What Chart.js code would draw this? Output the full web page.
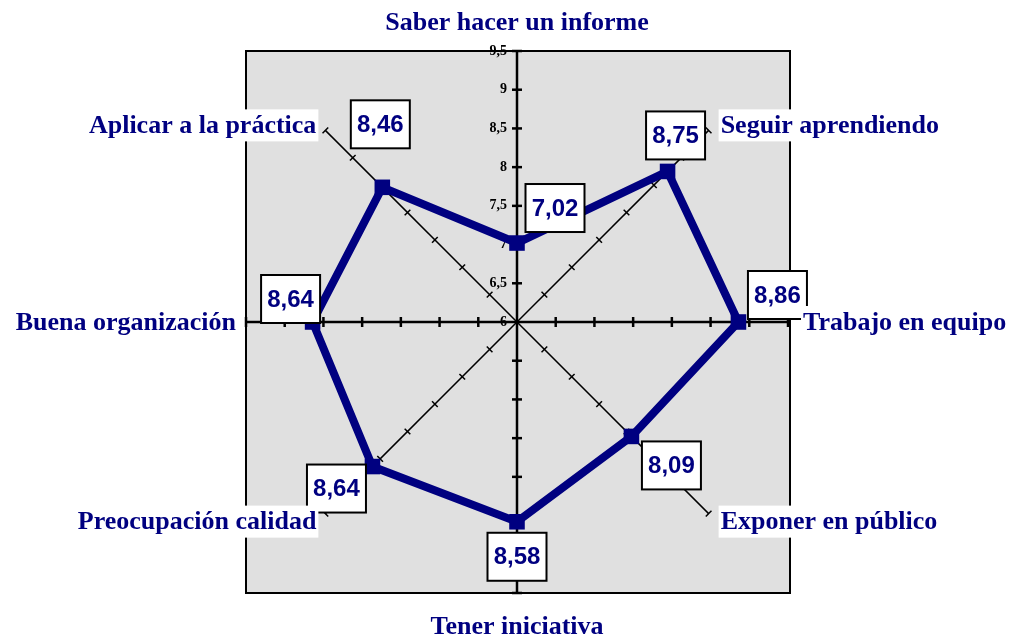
<!DOCTYPE html>
<html>
<head>
<meta charset="utf-8">
<script src="https://cdn.jsdelivr.net/npm/chart.js@4"></script>
<style>
  body { margin: 0; background: #fff; }
  canvas { display: block; }
</style>
</head>
<body>
<canvas id="radar" width="1014" height="637"></canvas>
<script>
// categories, clockwise from the top
var categories = ["Saber hacer un informe", "Seguir aprendiendo", "Trabajo en equipo", "Exponer en público",
    "Tener iniciativa", "Preocupación calidad", "Buena organización", "Aplicar a la práctica"];
var scores = [7.02, 8.75, 8.86, 8.09, 8.58, 8.64, 8.64, 8.46];
var valueLabels = ["7,02", "8,75", "8,86", "8,09", "8,58", "8,64", "8,64", "8,46"];

// where each value box sits, relative to its point (layout only)
var boxOffsets = [[38, -35], [8, -36], [39, -27], [40, 29], [0, 35], [-36, 22], [-22, -23], [-2, -63]];

var NAVY = "#000080";

function fmt(v) {
    return (v + "").replace(".", ",");
}

var radarDecor = {
    id: "radarDecor",
    beforeDraw: function(chart) {
        var s = chart.scales.r;
        var ctx = chart.ctx;
        var r = s.drawingArea;
        ctx.save();
        ctx.fillStyle = "#e0e0e0";
        ctx.fillRect(s.xCenter - r, s.yCenter - r, 2 * r + 2, 2 * r);
        ctx.lineWidth = 2;
        ctx.strokeStyle = "#000";
        ctx.strokeRect(s.xCenter - r, s.yCenter - r, 2 * r + 2, 2 * r);
        ctx.restore();
    },
    beforeDatasetsDraw: function(chart) {
        var s = chart.scales.r;
        var ctx = chart.ctx;
        ctx.save();
        ctx.strokeStyle = "#000";
        // small cross ticks on every spoke
        for (var i = 0; i < categories.length; i++) {
            var main = (i % 2 == 0);
            ctx.lineWidth = main ? 2.5 : 1.5;
            var half = main ? 5 : 4;
            s.ticks.forEach(function(t) {
                if (t.value <= s.min) return;
                var d = s.getDistanceFromCenterForValue(t.value);
                var p = s.getPointPosition(i, d);
                var a = p.angle;
                var nx = -Math.sin(a), ny = Math.cos(a);
                ctx.beginPath();
                ctx.moveTo(p.x - nx * half, p.y - ny * half);
                ctx.lineTo(p.x + nx * half, p.y + ny * half);
                ctx.stroke();
            });
        }
        // value labels on the upper spoke only
        ctx.fillStyle = "#000";
        ctx.font = 'bold 14px "Liberation Serif"';
        ctx.textAlign = "right";
        ctx.textBaseline = "middle";
        s.ticks.forEach(function(t) {
            var p = s.getPointPosition(0, s.getDistanceFromCenterForValue(t.value));
            ctx.fillText(fmt(t.value), p.x - 10, p.y);
        });
        ctx.restore();
    },
    afterDatasetsDraw: function(chart) {
        var s = chart.scales.r;
        var ctx = chart.ctx;
        var meta = chart.getDatasetMeta(0);
        ctx.save();

        // value boxes
        ctx.font = 'bold 24px "Liberation Sans"';
        ctx.textAlign = "center";
        ctx.textBaseline = "middle";
        meta.data.forEach(function(pt, i) {
            var cx = pt.x + boxOffsets[i][0];
            var cy = pt.y + boxOffsets[i][1];
            var w = 59, h = 48;
            ctx.fillStyle = "#fff";
            ctx.fillRect(cx - w / 2, cy - h / 2, w, h);
            ctx.lineWidth = 2;
            ctx.strokeStyle = "#000";
            ctx.strokeRect(cx - w / 2, cy - h / 2, w, h);
            ctx.fillStyle = NAVY;
            ctx.fillText(valueLabels[i], cx, cy + 1);
        });

        // category names round the outside
        ctx.font = 'bold 26px "Liberation Serif"';
        ctx.textBaseline = "middle";
        var r = s.drawingArea;
        categories.forEach(function(name, i) {
            var p = s.getPointPosition(i, r);
            var x = p.x, y = p.y, align = "center";
            if (i == 0) { y = p.y - 29; }
            else if (i == 4) { y = p.y + 33; }
            else if (i == 2) { x = p.x + 15; align = "left"; }
            else if (i == 6) { x = p.x - 10; align = "right"; }
            else if (i == 1) { x = p.x + 12; y = p.y - 5; align = "left"; }
            else if (i == 3) { x = p.x + 12; y = p.y + 8; align = "left"; }
            else if (i == 5) { x = p.x - 9; y = p.y + 8; align = "right"; }
            else if (i == 7) { x = p.x - 9; y = p.y - 5; align = "right"; }
            var tw = ctx.measureText(name).width;
            var left = align == "left" ? x : (align == "right" ? x - tw : x - tw / 2);
            ctx.fillStyle = "#fff";
            ctx.fillRect(left - 2, y - 16, tw + 4, 32);
            ctx.fillStyle = NAVY;
            ctx.textAlign = align;
            ctx.fillText(name, x, y + 1);
        });
        ctx.restore();
    }
};

var ctx = document.getElementById("radar").getContext("2d");
var chart = new Chart(ctx, {
    type: "radar",
    data: {
        labels: categories,
        datasets: [{
            label: "Puntuación",
            data: scores,
            borderColor: NAVY,
            backgroundColor: NAVY,
            borderWidth: 8,
            fill: false,
            tension: 0,
            pointStyle: "rect",
            pointRadius: 11,
            pointBackgroundColor: NAVY,
            pointBorderColor: NAVY,
            pointBorderWidth: 0
        }]
    },
    options: {
        responsive: false,
        animation: false,
        layout: {
            padding: { left: 246, right: 226, top: 51, bottom: 44 }
        },
        plugins: {
            legend: { display: false },
            title: { display: false },
            tooltip: { enabled: false }
        },
        scales: {
            r: {
                min: 6,
                max: 9.5,
                ticks: { stepSize: 0.5, display: false },
                grid: { display: false },
                angleLines: {
                    display: true,
                    color: "#000",
                    lineWidth: function(c) { return c.index % 2 == 0 ? 2.5 : 1.5; }
                },
                pointLabels: { display: false }
            }
        }
    },
    plugins: [radarDecor]
});
</script>
</body>
</html>
